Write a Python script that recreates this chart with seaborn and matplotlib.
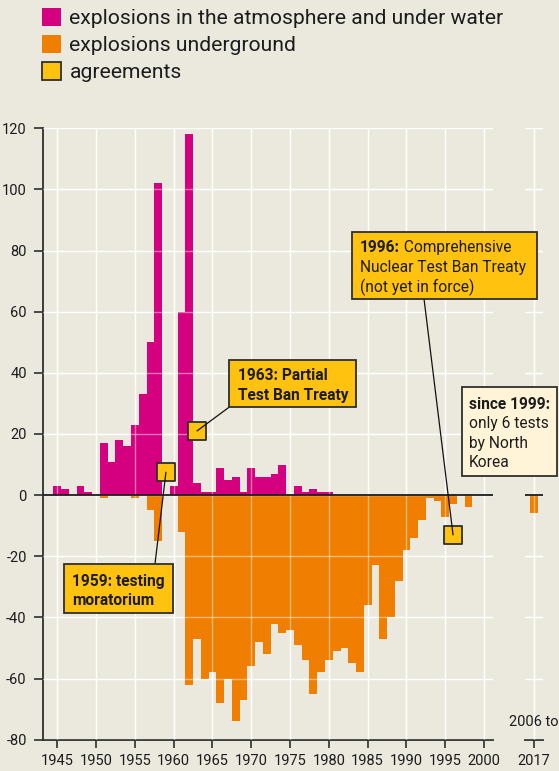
import matplotlib
matplotlib.use("Agg")
import matplotlib.pyplot as plt
from matplotlib.patches import Patch, Rectangle
import seaborn as sns
import pandas as pd

# ---- data -------------------------------------------------------------
years = list(range(1945, 1999))
atmospheric = [
    3, 2, 0, 3, 1,                      # 1945-1949
    0, 17, 11, 18, 16, 23, 33, 50, 102, 0,   # 1950-1959
    3, 60, 118, 4, 1, 1, 9, 5, 6, 1,    # 1960-1969
    9, 6, 6, 7, 10, 0, 3, 1, 2, 1,      # 1970-1979
    1, 0, 0, 0, 0, 0, 0, 0, 0, 0,       # 1980-1989
    0, 0, 0, 0, 0, 0, 0, 0, 0,          # 1990-1998
]
underground = [
    0, 0, 0, 0, 0,                                   # 1945-1949
    0, -1, 0, 0, 0, -1, 0, -5, -15, 0,               # 1950-1959
    0, -12, -62, -47, -60, -58, -68, -60, -74, -67,  # 1960-1969
    -56, -48, -52, -42, -45, -44, -49, -54, -65, -58,  # 1970-1979
    -54, -51, -50, -55, -58, -36, -23, -47, -40, -28,  # 1980-1989
    -18, -14, -8, -1, -2, -7, -3, 0, -4,             # 1990-1998
]
recent_years = [2017]
recent_tests = [-6]          # 2006 to 2017, North Korea
recent_label = "2006 to"

agreement_years = [1959, 1963, 1996]
agreement_marks = [7.5, 21, -13]

y_ticks = [-80, -60, -40, -20, 0, 20, 40, 60, 80, 100, 120]
x_ticks = [1945, 1950, 1955, 1960, 1965, 1970, 1975, 1980, 1985, 1990, 1995, 2000]

legend_labels = [
    "explosions in the atmosphere and under water",
    "explosions underground",
    "agreements",
]

# ---- style ------------------------------------------------------------
BG = "#EBE9DD"
MAGENTA = "#D5007F"
ORANGE = "#F07E00"
YELLOW = "#FFC20E"
CREAM = "#FFF3D8"
INK = "#1C1C1C"
EDGE = "#2E2E2E"

sns.set_theme(style="white")
plt.rcParams["font.family"] = ["Roboto", "DejaVu Sans"]
plt.rcParams["axes.unicode_minus"] = False
plt.rcParams["text.color"] = INK

fig = plt.figure(figsize=(5.59, 7.71), dpi=100, facecolor=BG)
ax = fig.add_axes([0.0764, 0.0406, 0.8061, 0.7930], facecolor=BG)
ax2 = fig.add_axes([0.9392, 0.0406, 0.0317, 0.7930], facecolor=BG)
ax.set_zorder(3)

df = pd.DataFrame({"year": years, "atmospheric": atmospheric,
                   "underground": underground})
recent = pd.DataFrame({"year": recent_years, "tests": recent_tests})

bar_kw = dict(native_scale=True, width=1.0, saturation=1, errorbar=None,
              orient="x", zorder=2, linewidth=0, antialiased=False)
sns.barplot(data=df, x="year", y="atmospheric", color=MAGENTA, ax=ax,
            **bar_kw)
sns.barplot(data=df, x="year", y="underground", color=ORANGE, ax=ax,
            **bar_kw)
sns.barplot(data=recent, x="year", y="tests", color=ORANGE, ax=ax2,
            **bar_kw)

# ---- axes -------------------------------------------------------------
for a in (ax, ax2):
    a.set_ylim(-80, 120)
    a.set_yticks(y_ticks)
    a.set_xlabel("")
    a.set_ylabel("")
    a.set_axisbelow(True)
    a.grid(True, color="white", linewidth=1.0, zorder=0)
    a.axhline(0, color=INK, linewidth=1.3, zorder=4)
    for t in y_ticks:
        a.axhline(t, color="white", linewidth=1.0, alpha=0.45, zorder=3)
    for s in ("top", "right", "left"):
        a.spines[s].set_visible(False)
    a.spines["bottom"].set_color(EDGE)
    a.spines["bottom"].set_linewidth(1.3)

ax.set_xlim(1943.12, 2001.19)
ax.set_xticks(x_ticks)
ax.set_xticklabels([str(v) for v in x_ticks])
for t in x_ticks:
    ax.axvline(t, color="white", linewidth=1.0, alpha=0.45, zorder=3)
ax.spines["left"].set_visible(True)
ax.spines["left"].set_color(EDGE)
ax.spines["left"].set_linewidth(1.3)
ax.tick_params(axis="y", length=6.5, width=1.2, color=EDGE, pad=5,
               labelsize=10.5, labelcolor=INK, left=True)
ax.tick_params(axis="x", length=5.5, width=1.2, color=EDGE, pad=5,
               labelsize=10.5, labelcolor=INK, bottom=True)

ax2.set_xlim(2015.88, 2018.16)
ax2.set_xticks(recent_years)
ax2.set_xticklabels([str(v) for v in recent_years])
for t in recent_years:
    ax2.axvline(t, color="white", linewidth=1.0, alpha=0.45, zorder=3)
ax2.tick_params(axis="y", left=False, labelleft=False)
ax2.tick_params(axis="x", length=5.5, width=1.2, color=EDGE, pad=5,
                labelsize=10.5, labelcolor=INK, bottom=True)
ax2.text(recent_years[0], -74.3, recent_label, ha="center", va="center",
         fontsize=10.5, color=INK, clip_on=False)

# ---- agreements -------------------------------------------------------
ax.scatter(agreement_years, agreement_marks, marker="s", s=175,
           color=YELLOW, edgecolor=EDGE, linewidth=1.3, zorder=6,
           clip_on=False)

BOX_FS = 11.2


def box(x0, x1, y0, y1, face):
    ax.add_patch(Rectangle((x0, y0), x1 - x0, y1 - y0, facecolor=face,
                           edgecolor=EDGE, linewidth=1.3, zorder=7,
                           clip_on=False))


def leader(mark_x, mark_y, end):
    ax.annotate("", xy=(mark_x, mark_y), xytext=end,
                arrowprops=dict(arrowstyle="-", color="#111111", lw=0.9,
                                shrinkA=0, shrinkB=0),
                zorder=6.5, annotation_clip=False)


def line(x, y, s, weight="normal"):
    return ax.text(x, y, s, fontsize=BOX_FS, fontweight=weight, color=INK,
                   ha="left", va="baseline", zorder=8, clip_on=False)


# 1959 moratorium
leader(agreement_years[0], agreement_marks[0], (1957.59, -22.5))
box(1945.86, 1959.95, -38.4, -22.5, YELLOW)
line(1946.86, -29.6, "1959: testing", "bold")
line(1946.86, -35.8, "moratorium", "bold")

# 1963 partial test ban
leader(agreement_years[1], agreement_marks[1], (1967.16, 28.8))
box(1967.16, 1983.49, 28.8, 44.3, YELLOW)
line(1968.25, 37.5, "1963: Partial", "bold")
line(1968.25, 31.1, "Test Ban Treaty", "bold")

# 1996 comprehensive test ban
leader(agreement_years[2], agreement_marks[2], (1992.26, 64.2))
box(1982.94, 2006.78, 64.2, 86.2, YELLOW)
head = line(1984.03, 79.4, "1996:", "bold")
ax.annotate(" Comprehensive", xy=(1, 0), xycoords=head, ha="left",
            va="bottom", fontsize=BOX_FS, color=INK, zorder=8,
            annotation_clip=False)
line(1984.03, 72.9, "Nuclear Test Ban Treaty")
line(1984.03, 66.3, "(not yet in force)")

# since 1999 note
box(1997.19, 2009.43, 6.1, 35.35, CREAM)
line(1998.05, 28.15, "since 1999:", "bold")
line(1998.05, 21.8, "only 6 tests")
line(1998.05, 15.5, "by North")
line(1998.05, 9.2, "Korea")

# ---- legend -----------------------------------------------------------
handles = [
    Patch(facecolor=MAGENTA, edgecolor="none"),
    Patch(facecolor=ORANGE, edgecolor="none"),
    Patch(facecolor=YELLOW, edgecolor=EDGE, linewidth=1.3),
]
fig.legend(handles, legend_labels, loc="upper left",
           bbox_to_anchor=(42 / 559, 1 - 8 / 771), frameon=False,
           fontsize=15.2, handlelength=0.9, handleheight=0.9,
           handletextpad=0.4, labelspacing=0.33, borderpad=0,
           borderaxespad=0, labelcolor=INK)

fig.savefig("out.png", dpi=100, facecolor=BG)
